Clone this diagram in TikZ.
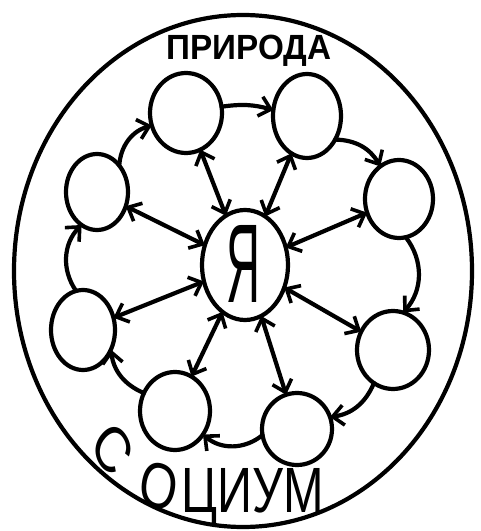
\documentclass[tikz,border=0pt]{standalone}
\usepackage{fontspec}
\setmainfont{Liberation Sans}
\usetikzlibrary{arrows.meta,shapes.geometric}
\begin{document}
\begin{tikzpicture}[x=1pt,y=1pt,line width=4.2pt,line cap=round,line join=round,
  bub/.style={draw,ellipse,inner sep=0pt,outer sep=0pt},
  barb/.tip={Straight Barb[length=11pt,width=20pt,line width=3.6pt]},
  spoke/.style={barb-barb},
  ring/.style={-barb}]
\fill[white] (0,0) rectangle (481,531);
\useasboundingbox (0,0) rectangle (481,531);
\draw (243,260) ellipse [x radius=229, y radius=256];
\node[bub,minimum width=86pt,minimum height=110pt] (C) at (245,266) {};
\node (ya) at (243,267) {\scalebox{0.42}[1]{\fontsize{112}{112}\selectfont Я}};
\node[bub,minimum width=72pt,minimum height=80pt] (n1) at (186,418) {};
\node[bub,minimum width=68pt,minimum height=84pt] (n2) at (307,415) {};
\node[bub,minimum width=68pt,minimum height=78pt] (n3) at (399,332) {};
\node[bub,minimum width=72pt,minimum height=78pt] (n4) at (393,181) {};
\node[bub,minimum width=70pt,minimum height=72pt] (n5) at (297,102) {};
\node[bub,minimum width=70pt,minimum height=78pt] (n6) at (175,120) {};
\node[bub,minimum width=64pt,minimum height=80pt] (n7) at (83,201) {};
\node[bub,minimum width=62pt,minimum height=76pt] (n8) at (97,339) {};
\node (top) at (249,480) {\scalebox{0.95}[1]{\fontsize{35}{38}\selectfont\bfseries ПРИРОДА}};
\node[anchor=base] (bot) at (206,18) {\scalebox{0.76}[1]{\fontsize{64}{70}\selectfont\raisebox{68pt}{\rotatebox{-50}{С}}\raisebox{12pt}{\rotatebox{-14}{О}}ЦИУМ}};
\foreach \n in {n1,n2,n3,n4,n5,n6,n7,n8}
  \draw[spoke] (C) -- (\n);
\draw[ring] (n1.10) to[bend left=12] (n2.170);
\draw[ring] (n2.-40) to[bend left=30] (n3.120);
\draw[ring] (n3.-80) to[bend left=40] (n4.75);
\draw[ring] (n4.-120) to[bend left=30] (n5.20);
\draw[ring] (n5.190) to[bend left=40] (n6.-40);
\draw[ring] (n6.150) to[bend left=30] (n7.-35);
\draw[ring] (n7.100) to[bend left=40] (n8.-115);
\draw[ring] (n8.50) to[bend left=35] (n1.200);
\end{tikzpicture}
\end{document}
